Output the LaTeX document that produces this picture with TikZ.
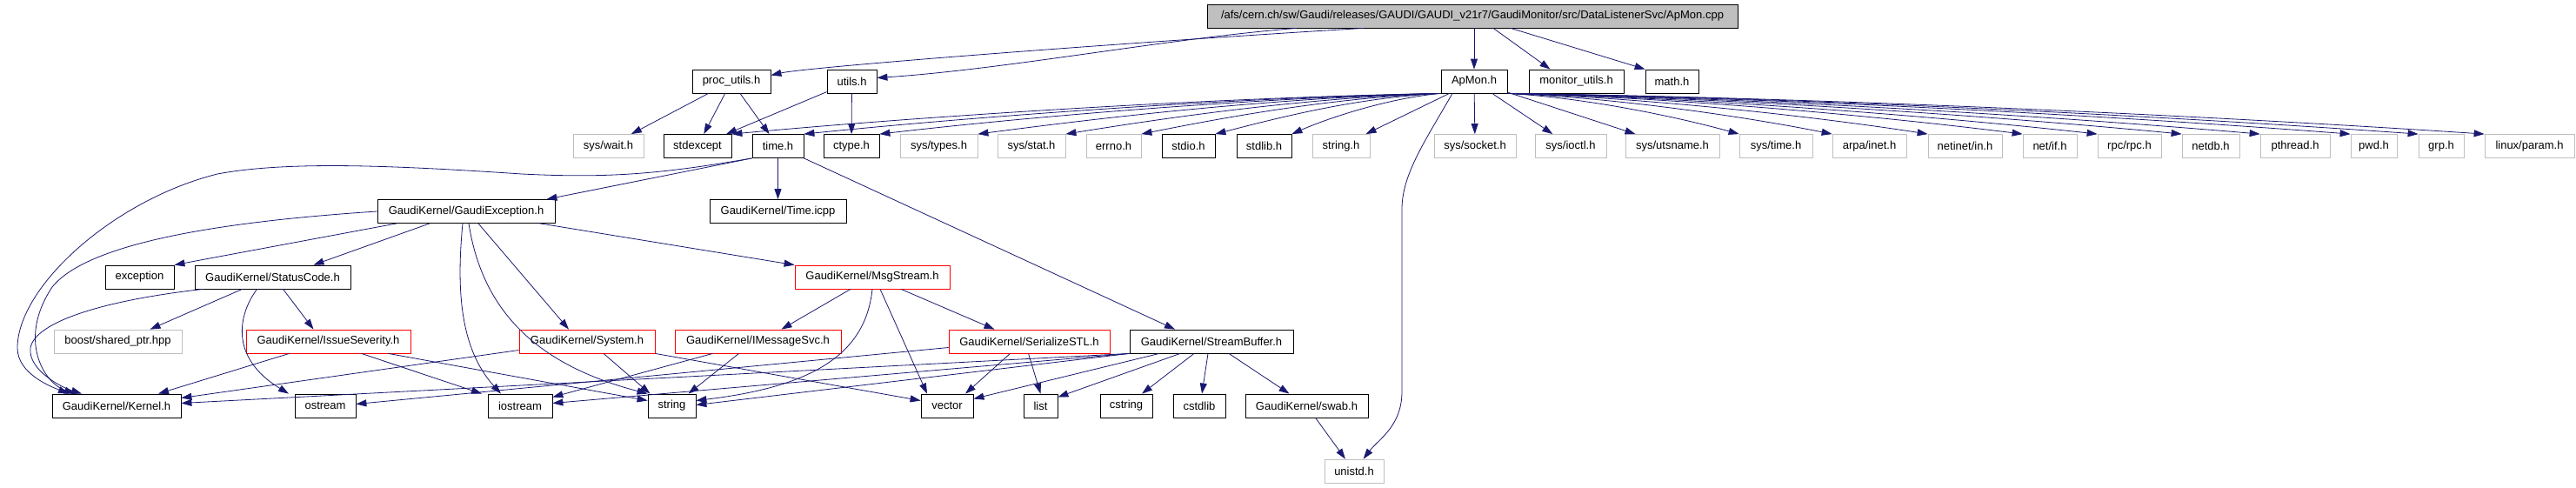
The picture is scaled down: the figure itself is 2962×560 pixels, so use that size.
\documentclass[tikz,border=0pt]{standalone}
\usepackage{fontspec}
\setmainfont{Liberation Sans}
\usetikzlibrary{arrows.meta}

\definecolor{edgeblue}{HTML}{191970}
\definecolor{boxgray}{HTML}{BFBFBF}

\tikzset{
  hdr/.style={draw=black, line width=0.8pt, minimum height=27pt, inner sep=0pt, font=\fontsize{13}{15}\selectfont},
  sysh/.style={hdr, draw=boxgray},
  redh/.style={hdr, draw=red},
  rooth/.style={hdr, fill=boxgray},
  inc/.style={edgeblue, line width=0.8pt, -{Triangle[length=12pt,width=8pt]}}
}

\begin{document}
\begin{tikzpicture}[x=1pt, y=-1pt]
\useasboundingbox (0,0) rectangle (2962,560);

% the file itself
\node[rooth, minimum width=610pt] (apmoncpp) at (1693,18.5) {/afs/cern.ch/sw/Gaudi/releases/GAUDI/GAUDI\_v21r7/GaudiMonitor/src/DataListenerSvc/ApMon.cpp};

% direct includes
\node[hdr, minimum width=90pt] (procutils) at (841,93.5) {proc\_utils.h};
\node[hdr, minimum width=57pt] (utils) at (979.5,93.5) {utils.h};
\node[hdr, minimum width=76pt] (apmonh) at (1695,93.5) {ApMon.h};
\node[hdr, minimum width=109pt] (monutils) at (1812.5,93.5) {monitor\_utils.h};
\node[hdr, minimum width=61pt] (mathh) at (1922.5,93.5) {math.h};

% second row
\foreach \n/\x/\w/\t in {stdexcept/802/78/stdexcept, timeh/894.5/59/time.h, ctype/979/64/ctype.h, stdio/1366.5/61/stdio.h, stdlib/1453.5/63/stdlib.h}
  \node[hdr, minimum width=\w pt] (\n) at (\x,168) {\t};
\foreach \n/\x/\w/\t in {syswait/699.5/81/{sys/wait.h}, systypes/1079.5/89/{sys/types.h}, sysstat/1186/78/{sys/stat.h}, errno/1280.5/63/errno.h, stringh/1542/66/string.h, syssocket/1696/94/{sys/socket.h}, sysioctl/1806/82/{sys/ioctl.h}, sysutsname/1923/108/{sys/utsname.h}, systime/2042/84/{sys/time.h}, arpainet/2149.5/85/{arpa/inet.h}, netinet/2259.5/85/{netinet/in.h}, netif/2357/62/{net/if.h}, rpc/2448.5/73/{rpc/rpc.h}, netdb/2542/66/netdb.h, pthread/2639/80/pthread.h, pwd/2729.5/53/pwd.h, grp/2807/52/grp.h, linuxparam/2908.5/103/{linux/param.h}}
  \node[sysh, minimum width=\w pt] (\n) at (\x,168) {\t};

% GaudiKernel part
\node[hdr, minimum width=204pt] (gexc) at (536,243) {GaudiKernel/GaudiException.h};
\node[hdr, minimum width=157pt] (timeicpp) at (894.5,243) {GaudiKernel/Time.icpp};
\node[hdr, minimum width=79pt] (exception) at (160.5,318.5) {exception};
\node[hdr, minimum width=179pt] (statuscode) at (313.5,318.5) {GaudiKernel/StatusCode.h};
\node[redh, minimum width=178pt] (msgstream) at (1003,318.5) {GaudiKernel/MsgStream.h};
\node[sysh, minimum width=147pt] (boost) at (135.5,392.5) {boost/shared\_ptr.hpp};
\node[redh, minimum width=189pt] (issue) at (377.5,392.5) {GaudiKernel/IssueSeverity.h};
\node[redh, minimum width=156pt] (system) at (675,392.5) {GaudiKernel/System.h};
\node[redh, minimum width=191pt] (imsgsvc) at (871.5,392.5) {GaudiKernel/IMessageSvc.h};
\node[redh, minimum width=185pt] (serialize) at (1183.5,392.5) {GaudiKernel/SerializeSTL.h};
\node[hdr, minimum width=188pt] (streambuf) at (1393,392.5) {GaudiKernel/StreamBuffer.h};

% bottom row
\node[hdr, minimum width=148pt] (kernel) at (134,466.5) {GaudiKernel/Kernel.h};
\node[hdr, minimum width=70pt] (ostream) at (374,466.5) {ostream};
\node[hdr, minimum width=74pt] (iostream) at (598,466.5) {iostream};
\node[hdr, minimum width=55pt] (string) at (772.5,466.5) {string};
\node[hdr, minimum width=60pt] (vector) at (1089,466.5) {vector};
\node[hdr, minimum width=39pt] (list) at (1196.5,466.5) {list};
\node[hdr, minimum width=60pt] (cstring) at (1295,466.5) {cstring};
\node[hdr, minimum width=60pt] (cstdlib) at (1379,466.5) {cstdlib};
\node[hdr, minimum width=141pt] (swab) at (1502.5,466.5) {GaudiKernel/swab.h};
\node[sysh, minimum width=68pt] (unistd) at (1557,541.5) {unistd.h};

% ApMon.cpp
\draw[inc] ([xshift=-125pt]apmoncpp.south) .. controls +(-300,18) and +(40,-9) .. ([yshift=7pt]procutils.east);
\draw[inc] ([xshift=-202pt]apmoncpp.south) .. controls +(-150,12) and +(150,-10) .. ([yshift=4pt]utils.east);
\draw[inc] (apmonh |- apmoncpp.south) -- (apmonh);
\draw[inc] ([xshift=24pt]apmoncpp.south) -- ([xshift=-30pt]monutils.north);
\draw[inc] ([xshift=44pt]apmoncpp.south) -- (mathh.north west);

% proc_utils.h, utils.h
\draw[inc] (procutils) -- (syswait);
\draw[inc] (procutils) -- (stdexcept);
\draw[inc] (procutils) -- (timeh);
\draw[inc] (utils) -- (stdexcept);
\draw[inc] (utils) -- (ctype);

% ApMon.h
\foreach \t/\d in {stdexcept/270, timeh/245, ctype/215, systypes/190, sysstat/155, errno/125, stdio/97, stdlib/57}
  \draw[inc] (apmonh.south west) .. controls +(-\d,5) and +({0.8*\d},-20) .. (\t.north east);
\foreach \t in {stringh, syssocket, sysioctl, sysutsname}
  \draw[inc] (apmonh) -- (\t);
\foreach \t/\d in {systime/90, arpainet/125, netinet/160, netif/200, rpc/225, netdb/260, pthread/290, pwd/325, grp/350, linuxparam/375}
  \draw[inc] (apmonh.south east) .. controls +(\d,5) and +({-0.8*\d},-20) .. (\t.north west);
\draw[inc] ([xshift=-25pt]apmonh.south) .. controls (1640,160) and (1612,200) .. (1612,240) -- (1612,450) .. controls (1612,490) and (1585,505) .. (unistd);

% time.h
\draw[inc] (timeh.south west) .. controls (760,200) and (700,205) .. (600,200) .. controls (450,190) and (330,185) .. (250,200) .. controls (130,230) and (20,330) .. (20,400) .. controls (20,430) and (60,445) .. ([xshift=-55pt]kernel.north);
\draw[inc] (timeh.south west) -- ([xshift=-10pt]gexc.north east);
\draw[inc] (timeh) -- (timeicpp);
\draw[inc] (timeh.south east) -- ([xshift=-42pt]streambuf.north);

% GaudiException.h
\draw[inc] (gexc.west) .. controls (250,255) and (100,280) .. (60,330) .. controls (20,390) and (50,440) .. ([xshift=-48pt]kernel.north);
\draw[inc] ([xshift=-80pt]gexc.south) -- (exception.north east);
\draw[inc] ([xshift=-42pt]gexc.south) -- ([xshift=47pt]statuscode.north);
\draw[inc] ([xshift=-4pt]gexc.south) .. controls (525,330) and (528,400) .. ([xshift=-22pt]iostream.north);
\draw[inc] ([xshift=3pt]gexc.south) .. controls (555,360) and (620,420) .. (string.north west);
\draw[inc] ([xshift=14pt]gexc.south) -- ([xshift=-21pt]system.north);
\draw[inc] ([xshift=85pt]gexc.south) -- (msgstream.north west);

% StatusCode.h
\draw[inc] ([xshift=-80pt]statuscode.south) .. controls (120,345) and (40,370) .. (35,400) .. controls (32,425) and (70,445) .. ([xshift=-40pt]kernel.north);
\draw[inc] ([xshift=-35pt]statuscode.south) -- ([xshift=37pt]boost.north);
\draw[inc] ([xshift=-18pt]statuscode.south) .. controls (275,360) and (262,410) .. ([xshift=-42pt]ostream.north);
\draw[inc] ([xshift=12pt]statuscode.south) -- ([xshift=-17pt]issue.north);

% IssueSeverity.h, System.h, IMessageSvc.h
\draw[inc] ([xshift=-45pt]issue.south) -- ([xshift=48pt]kernel.north);
\draw[inc] ([xshift=38pt]issue.south) -- ([xshift=-44pt]iostream.north);
\draw[inc] ([xshift=69pt]issue.south) -- ([yshift=6pt]string.west);
\draw[inc] ([yshift=-10pt]system.west) -- ([yshift=9pt]kernel.east);
\draw[inc] ([xshift=19pt]system.south) -- ([xshift=-25pt]string.north);
\draw[inc] (system.south east) -- ([yshift=6pt]vector.west);
\draw[inc] ([xshift=-52pt]imsgsvc.south) -- ([yshift=10pt]iostream.east);
\draw[inc] ([xshift=-22pt]imsgsvc.south) -- ([xshift=19pt]string.north);

% MsgStream.h
\draw[inc] ([xshift=-25pt]msgstream.south) -- ([xshift=27pt]imsgsvc.north);
\draw[inc] (msgstream.south) .. controls (995,410) and (930,445) .. ([yshift=6pt]string.east);
\draw[inc] ([xshift=9pt]msgstream.south) -- ([xshift=-23pt]vector.north);
\draw[inc] ([xshift=33pt]msgstream.south) -- ([xshift=-40pt]serialize.north);

% SerializeSTL.h
\draw[inc] ([yshift=-7pt]serialize.west) -- ([yshift=2pt]ostream.east);
\draw[inc] ([xshift=-22pt]serialize.south) -- ([xshift=21pt]vector.north);
\draw[inc] ([xshift=-1pt]serialize.south) -- (list.north);

% StreamBuffer.h
\draw[inc] (streambuf.south west) -- ([yshift=3pt]kernel.east);
\draw[inc] (streambuf.south west) -- ([yshift=3pt]iostream.east);
\draw[inc] (streambuf.south west) -- ([yshift=1pt]string.east);
\draw[inc] ([xshift=-60pt]streambuf.south) -- ([yshift=8pt]vector.east);
\draw[inc] ([xshift=-36pt]streambuf.south) -- ([yshift=10pt]list.east);
\draw[inc] ([xshift=-20pt]streambuf.south) -- ([xshift=18pt]cstring.north);
\draw[inc] ([xshift=-4pt]streambuf.south) -- ([xshift=3pt]cstdlib.north);
\draw[inc] ([xshift=20pt]streambuf.south) -- ([xshift=-20pt]swab.north);
\draw[inc] (swab) -- (unistd);

\end{tikzpicture}
\end{document}
